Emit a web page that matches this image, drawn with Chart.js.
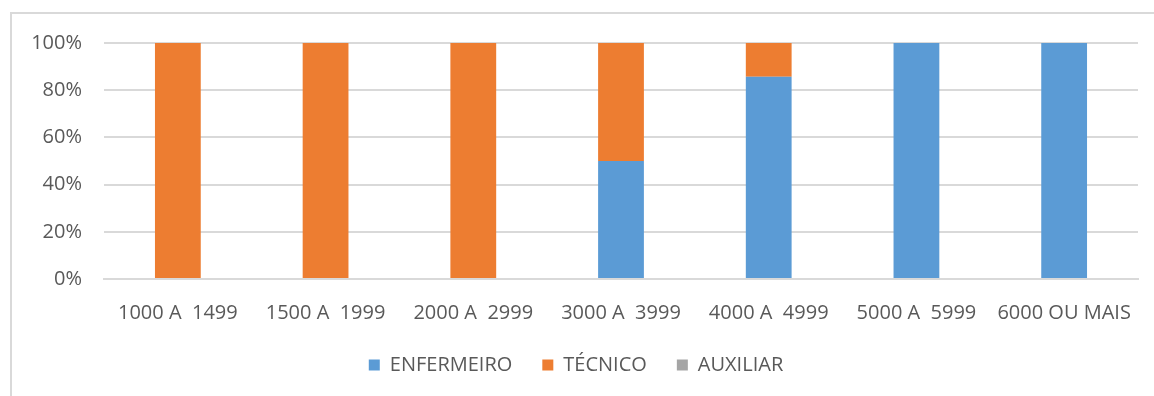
<!DOCTYPE html>
<html>
<head>
<meta charset="utf-8">
<script src="https://cdn.jsdelivr.net/npm/chart.js@4"></script>
<style>
  html, body { margin: 0; padding: 0; background: #fff; }
  body { width: 1154px; height: 396px; position: relative; overflow: hidden; }
  .frame {
    position: absolute; left: 10px; top: 12px; width: 1200px; height: 420px;
    border-left: 2px solid #d9d9d9; border-top: 2px solid #d9d9d9;
  }
  #wrap { position: absolute; left: 0; top: 0; width: 1154px; height: 396px; }
</style>
</head>
<body>
<div class="frame"></div>
<div id="wrap"><canvas id="salario"></canvas></div>
<script>
// faixas salariais e percentual por categoria profissional
const faixas = ['1000 A  1499', '1500 A  1999', '2000 A  2999', '3000 A  3999', '4000 A  4999', '5000 A  5999', '6000 OU MAIS'];
const enfermeiro = [0, 0, 0, 50, 85.7, 100, 100];
const tecnico = [100, 100, 100, 50, 14.3, 0, 0];
const auxiliar = [0, 0, 0, 0, 0, 0, 0];
const yTicks = [0, 20, 40, 60, 80, 100];

const textColor = '#595959';
const gridColor = '#d9d9d9';
Chart.defaults.font.family = "'Open Sans', sans-serif";
Chart.defaults.font.size = 20;
Chart.defaults.color = textColor;

const ctx = document.getElementById('salario').getContext('2d');
new Chart(ctx, {
    type: 'bar',
    data: {
        labels: faixas,
        datasets: [
            { label: 'ENFERMEIRO', data: enfermeiro, backgroundColor: '#5b9bd5' },
            { label: 'TÉCNICO', data: tecnico, backgroundColor: '#ed7d31' },
            { label: 'AUXILIAR', data: auxiliar, backgroundColor: '#a5a5a5' }
        ]
    },
    options: {
        responsive: true,
        maintainAspectRatio: false,
        animation: false,
        layout: { padding: { left: 14, right: 16, top: 43, bottom: 11 } },
        datasets: { bar: { barPercentage: 0.31, categoryPercentage: 1 } },
        plugins: {
            tooltip: { enabled: false },
            legend: {
                position: 'bottom',
                labels: { boxWidth: 11, boxHeight: 11, padding: 30 }
            }
        },
        scales: {
            x: {
                stacked: true,
                grid: { display: false },
                border: { color: gridColor, width: 2 },
                ticks: { maxRotation: 0, padding: 14 },
                afterFit: scale => { scale.height = 46; }
            },
            y: {
                stacked: true,
                min: 0,
                max: 100,
                afterBuildTicks: scale => { scale.ticks = yTicks.map(v => ({ value: v })); },
                ticks: { callback: v => v + '%', padding: 22 },
                grid: { color: gridColor, lineWidth: 2, drawTicks: false },
                border: { display: false },
                afterFit: scale => { scale.width = 90; }
            }
        }
    }
});
</script>
</body>
</html>
